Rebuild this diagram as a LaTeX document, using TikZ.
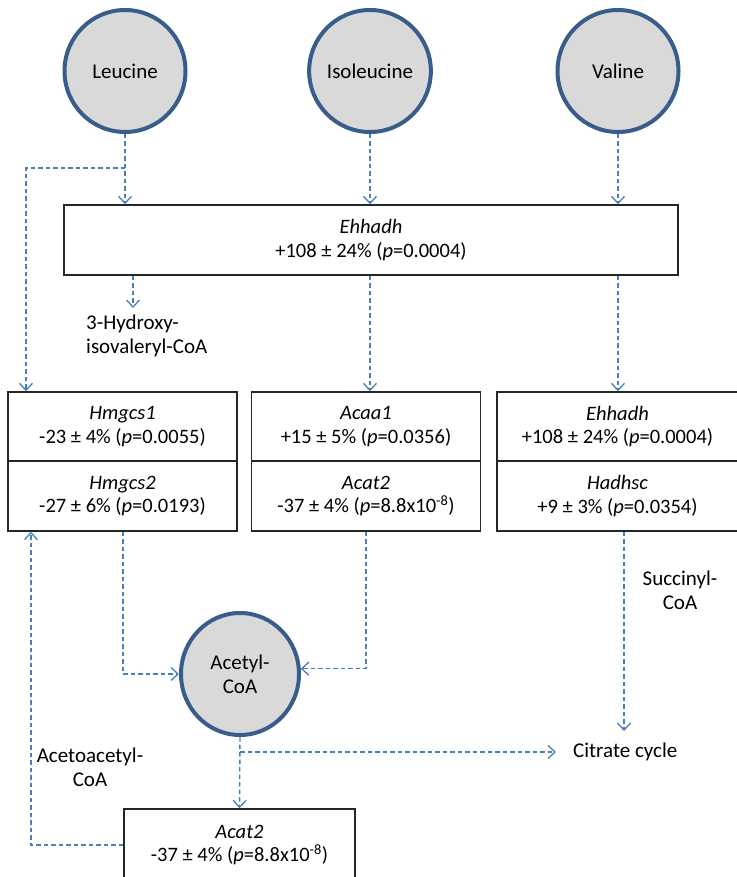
\documentclass[tikz,border=0pt]{standalone}
\usepackage{fontspec}
\setmainfont{Carlito}
\usetikzlibrary{shapes.geometric,arrows.meta}
\definecolor{arrblue}{HTML}{4A7EBB}
\definecolor{circborder}{HTML}{385D8A}
\definecolor{circfill}{HTML}{D9D9D9}
\tikzset{
  circ/.style={ellipse, draw=circborder, line width=4pt, fill=circfill, inner sep=0pt, align=center, font=\fontsize{21}{24}\selectfont},
  gbox/.style={rectangle, draw=black!85, line width=1.5pt, fill=white, inner sep=0pt, align=center, font=\fontsize{20.5}{23.5}\selectfont},
  lbl/.style={inner sep=0pt, font=\fontsize{21}{24}\selectfont},
  conn/.style={draw=arrblue, line width=1.4pt, dash pattern=on 4.5pt off 3pt},
  arr/.style={conn, -{Straight Barb[length=7pt,width=13pt,line width=1.3pt]}}
}
\begin{document}
\begin{tikzpicture}[x=1pt,y=-1pt]
\useasboundingbox (0,0) rectangle (736,877);
\fill[white] (0,0) rectangle (736,877);
% metabolite circles
\node[circ, minimum width=121pt, minimum height=122pt] (leu) at (125,71) {Leucine};
\node[circ, minimum width=121pt, minimum height=122pt] (iso) at (370,71) {Isoleucine};
\node[circ, minimum width=121pt, minimum height=122pt] (val) at (618,71) {Valine};
\node[circ, minimum width=118pt, minimum height=122pt] (acc) at (240,674) {Acetyl-\\CoA};
% gene boxes
\node[gbox, minimum width=614pt, minimum height=70pt] (ehh) at (371,240) {\textit{Ehhadh}\\+108 ± 24\% (\textit{p}=0.0004)};
\node[gbox, minimum width=229pt, minimum height=69pt] (hm1) at (122.5,426.5) {\textit{Hmgcs1}\\-23 ± 4\% (\textit{p}=0.0055)};
\node[gbox, minimum width=229pt, minimum height=70pt] (hm2) at (122.5,496) {\textit{Hmgcs2}\\-27 ± 6\% (\textit{p}=0.0193)};
\node[gbox, minimum width=229pt, minimum height=69pt] (aa1) at (366,426.5) {\textit{Acaa1}\\+15 ± 5\% (\textit{p}=0.0356)};
\node[gbox, minimum width=229pt, minimum height=70pt] (ab2) at (366,496) {\textit{Acat2}\\-37 ± 4\% (\textit{p}=8.8x10\textsuperscript{-8})};
\node[gbox, minimum width=241pt, minimum height=69pt] (eh2) at (617.5,426.5) {\textit{Ehhadh}\\+108 ± 24\% (\textit{p}=0.0004)};
\node[gbox, minimum width=241pt, minimum height=70pt] (hd) at (617.5,496) {\textit{Hadhsc}\\+9 ± 3\% (\textit{p}=0.0354)};
\node[gbox, minimum width=231pt, minimum height=72pt] (acat) at (239.5,845) {\textit{Acat2}\\-37 ± 4\% (\textit{p}=8.8x10\textsuperscript{-8})};
% labels
\node[lbl, align=left, anchor=north west] (hyd) at (86,315) {3-Hydroxy-\\isovaleryl-CoA};
\node[lbl, align=center] (suc) at (680,590) {Succinyl-\\CoA};
\node[lbl, align=center] (aca) at (90,767) {Acetoacetyl-\\CoA};
\node[lbl, anchor=west] (cit) at (573,752) {Citrate cycle};
% helper coordinates
\coordinate (b1) at (125,168);
\coordinate (b2) at (26,168);
\coordinate (hx) at (133,308);
\coordinate (lx) at (123,0);
\coordinate (cx) at (624,0);
\coordinate (ax) at (31,0);
% connectors
\draw[arr] (leu.south) -- (leu.south |- ehh.north);
\draw[arr] (b1) -- (b2) -- (b2 |- hm1.north);
\draw[arr] (iso.south) -- (iso.south |- ehh.north);
\draw[arr] (val.south) -- (val.south |- ehh.north);
\draw[arr] (hx |- ehh.south) -- (hx);
\draw[arr] (iso.south |- ehh.south) -- (iso.south |- aa1.north);
\draw[arr] (val.south |- ehh.south) -- (val.south |- eh2.north);
\draw[arr] (lx |- hm2.south) |- (acc.west);
\draw[arr] (ab2.south) |- (acc.5);
\draw[arr] (cx |- hd.south) -- (cx |- 0,731);
\draw[arr] (acc.south) -- (acat.north);
\draw[arr] (acc.south |- cit.west) -- ([xshift=-17pt]cit.west);
\draw[arr] (acat.west) -| (ax |- hm2.south);
\end{tikzpicture}
\end{document}
